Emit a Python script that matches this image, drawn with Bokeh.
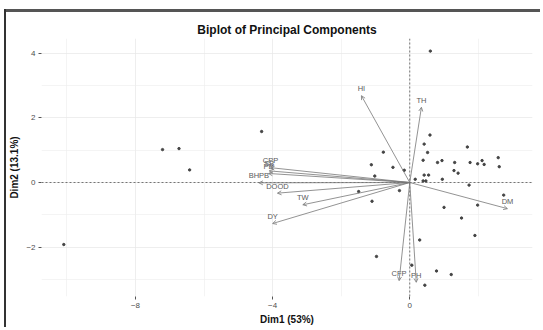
from bokeh.plotting import figure
from bokeh.models import Span, Arrow, OpenHead, ColumnDataSource, FixedTicker, Range1d, InlineStyleSheet
from bokeh.core.properties import value
from bokeh.embed import file_html
from bokeh.resources import INLINE

# Individuals (PC scores)
ind_x = [0.60, -4.32, -7.21, -6.73, -6.42, -10.09, -0.77, -1.12, -0.49, -0.16,
         -1.02, -0.30, -1.49, -1.10, -0.97, 0.29, 0.06, 0.78, 1.21, 0.44,
         0.59, 0.42, 0.52, 0.39, 0.81, 0.94, 1.31, 1.68, 1.76, 1.98,
         2.11, 2.17, 2.58, 2.61, 1.29, 1.41, 0.42, 0.55, 0.39, 0.47,
         0.16, 0.95, 1.73, 1.00, 1.51, 1.98, 1.90, 2.74]
ind_y = [4.07, 1.58, 1.02, 1.05, 0.39, -1.92, 0.94, 0.55, 0.47, 0.38,
         0.20, -0.25, -0.28, -0.58, -2.29, -1.78, -2.56, -2.74, -2.85, -3.18,
         1.47, 1.19, 0.93, 0.69, 0.62, 0.68, 0.62, 1.10, 0.62, 0.58,
         0.68, 0.56, 0.77, 0.49, 0.37, 0.29, 0.23, 0.23, 0.05, 0.05,
         0.10, 0.10, -0.08, -0.77, -1.10, -0.70, -1.64, -0.39]

# Variables (loadings, scaled)
var_names = ["HI", "TH", "DM", "CFP", "PH", "DY", "TW", "DOOD", "BHPB", "PB", "SB", "CPP"]
var_x = [-1.41, 0.34, 2.85, -0.31, 0.19, -4.00, -3.12, -3.86, -4.40, -4.12, -4.10, -4.06]
var_y = [2.69, 2.33, -0.81, -3.04, -3.09, -1.27, -0.69, -0.33, -0.01, 0.28, 0.36, 0.46]

x_ticks = [-8, -4, 0]
y_ticks = [-2, 0, 2, 4]

p = figure(width=540, height=327, output_backend="svg", toolbar_location=None,
           x_range=Range1d(-10.74, 3.58), y_range=Range1d(-3.53, 4.46),
           title="Biplot of Principal Components")
p.min_border_left = 41
p.min_border_right = 8
p.min_border_top = 38
p.min_border_bottom = 29
p.outline_line_color = None
p.background_fill_color = "white"
p.border_fill_color = "white"

p.title.text_font = "Liberation Sans"
p.title.text_font_size = "12px"
p.title.text_font_style = "bold"
p.title.align = "center"
p.title.text_color = "#111111"
p.title.offset = 0
p.title.standoff = 4

p.xaxis.ticker = FixedTicker(ticks=x_ticks, minor_ticks=[-10, -6, -2, 2])
p.yaxis.ticker = FixedTicker(ticks=y_ticks, minor_ticks=[-3, -1, 1, 3])
for ax in (p.xaxis, p.yaxis):
    ax.axis_line_color = None
    ax.major_tick_line_color = "#555555"
    ax.major_tick_out = 3
    ax.major_tick_in = 0
    ax.minor_tick_line_color = None
    ax.major_label_text_font = "Liberation Sans"
    ax.major_label_text_font_size = "8px"
    ax.major_label_text_color = "#4d4d4d"
    ax.major_label_standoff = 2
    ax.axis_label_text_font = "Liberation Sans"
    ax.axis_label_text_font_size = "10px"
    ax.axis_label_text_font_style = "bold"
    ax.axis_label_text_color = "#111111"
    ax.axis_label_standoff = 3
p.xaxis.axis_label = "Dim1 (53%)"
p.yaxis.axis_label = "Dim2 (13.1%)"

for g in (p.xgrid, p.ygrid):
    g.grid_line_color = "#e6e6e6"
    g.grid_line_width = 0.7
    g.minor_grid_line_color = "#ececec"
    g.minor_grid_line_width = 0.6

p.add_layout(Span(location=0, dimension="width", line_color="#555555",
                  line_dash="2 2", line_width=0.8))
p.add_layout(Span(location=0, dimension="height", line_color="#555555",
                  line_dash="2 2", line_width=0.8))

p.scatter(ind_x, ind_y, size=2.4, color="#444444", marker="circle")

src = ColumnDataSource(dict(x0=[0] * len(var_x), y0=[0] * len(var_y),
                            x1=var_x, y1=var_y, name=var_names))
p.add_layout(Arrow(end=OpenHead(size=4, line_color="#777777", line_width=0.8),
                   x_start="x0", y_start="y0", x_end="x1", y_end="y1",
                   line_color="#777777", line_width=0.8, source=src))
p.text(x="x1", y="y1", text="name", source=src, text_font=value("Liberation Sans"),
       text_font_size="7.5px", text_color="#5a5a5a", text_align="center",
       text_baseline="middle", y_offset=-7)

# dark frame of the original screenshot (top and left edges)
p.stylesheets = [InlineStyleSheet(css="""
.bk-top-frame {
  position: absolute;
}
:host::before {
  content: "";
  position: absolute;
  left: 4px; top: 9px; width: 536px; height: 3px;
  background: #555555;
  pointer-events: none;
  z-index: 10;
}
:host::after {
  content: "";
  position: absolute;
  left: 4px; top: 9px; width: 2px; height: 318px;
  background: #333333;
  pointer-events: none;
  z-index: 10;
}
""")]

open("out.html", "w").write(file_html(p, INLINE))
